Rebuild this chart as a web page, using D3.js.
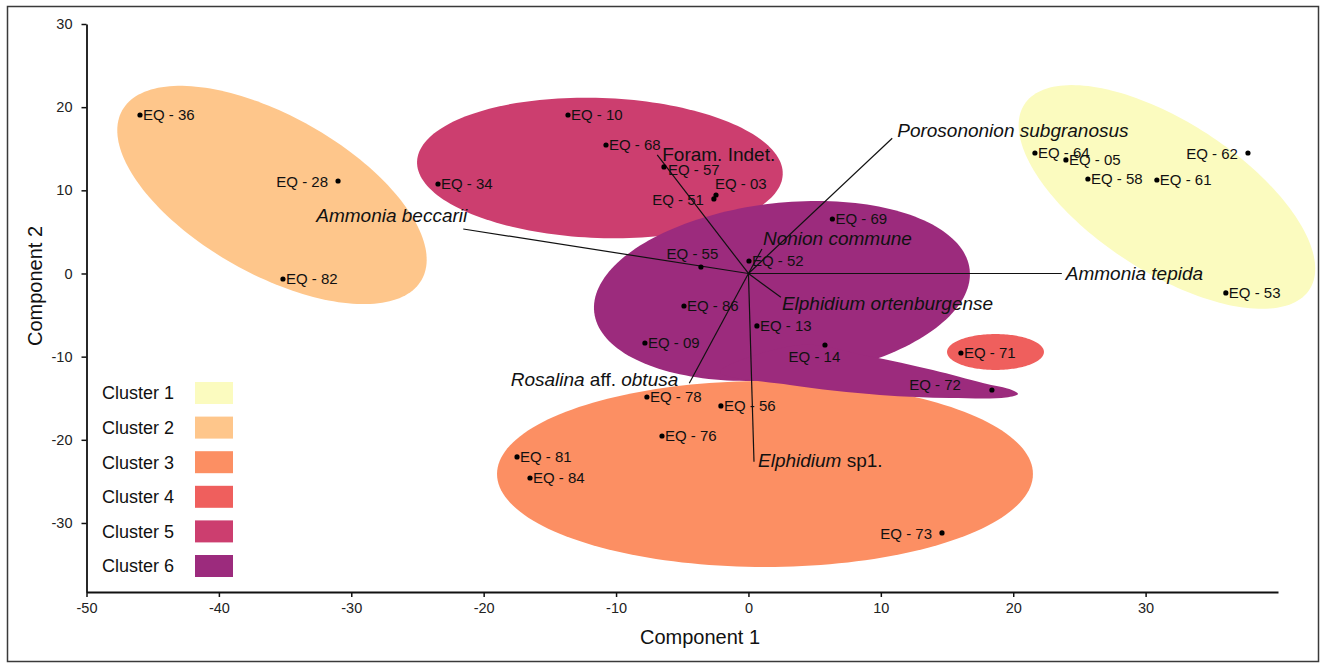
<!DOCTYPE html>
<html>
<head>
<meta charset="utf-8">
<script src="https://cdn.jsdelivr.net/npm/d3@7"></script>
<style>
  body { margin: 0; background: #fff; }
  svg { display: block; font-family: "Liberation Sans", Arial, sans-serif; }
</style>
</head>
<body>
<script>
// Sample scores on the two components
var sampleNames = ["EQ - 36", "EQ - 28", "EQ - 82", "EQ - 10", "EQ - 68", "EQ - 34", "EQ - 57", "EQ - 03",
  "EQ - 51", "EQ - 69", "EQ - 55", "EQ - 52", "EQ - 86", "EQ - 13", "EQ - 14", "EQ - 09", "EQ - 72",
  "EQ - 71", "EQ - 78", "EQ - 56", "EQ - 76", "EQ - 81", "EQ - 84", "EQ - 73", "EQ - 64", "EQ - 05",
  "EQ - 58", "EQ - 61", "EQ - 62", "EQ - 53"];
var comp1 = [-45.96, -31.0, -35.16, -13.63, -10.76, -23.45, -6.38, -2.45, -2.61, 6.34, -3.59, 0.04,
  -4.87, 0.64, 5.78, -7.82, 18.39, 16.05, -7.67, -2.08, -6.53, -17.48, -16.5, 14.62, 21.64, 23.98,
  25.64, 30.85, 37.73, 36.06];
var comp2 = [19.06, 11.12, -0.66, 19.06, 15.45, 10.76, 12.81, 9.44, 8.96, 6.55, 0.78, 1.5, -3.91,
  -6.31, -8.6, -8.36, -14.01, -9.56, -14.85, -15.93, -19.54, -22.06, -24.59, -31.2, 14.49, 13.65,
  11.36, 11.24, 14.49, -2.34];

// Species loadings (label parts: [text, italic])
var speciesParts = [
  [["Porosononion subgranosus", true]],
  [["Foram. Indet.", false]],
  [["Ammonia beccarii", true]],
  [["Ammonia tepida", true]],
  [["Nonion commune", true]],
  [["Elphidium ortenburgense", true]],
  [["Rosalina", true], [" aff. ", false], ["obtusa", true]],
  [["Elphidium", true], [" sp1.", false]]
];
var load1 = [10.86, -6.89, -21.54, 23.67, 1.02, 2.45, -4.47, 0.42];
var load2 = [16.26, 14.25, 5.35, 0, 2.95, -2.86, -13.2, -22.63];

// Clusters: ellipse centre and two semi-axis vectors, in component units
var clusterNames = ["Cluster 1", "Cluster 2", "Cluster 3", "Cluster 4", "Cluster 5", "Cluster 6"];
var clusterColors = ["#fbfbbf", "#fec68b", "#fc8f63", "#ef5f5d", "#cc3e6f", "#9c2b7d"];
var ellipseCentre = [[31.61, 9.2], [-35.99, 9.44], [1.25, -24.11], [18.66, -9.44], [-11.22, 12.69], [2.53, -2.1]];
var ellipseAxisA = [[10.77, -11.13], [11.31, -10.19], [20.24, 0], [3.66, 0], [13.81, -0.77], [14.18, 2.57]];
var ellipseAxisB = [[-3.08, -7.56], [-2.94, -8.27], [0, -11.18], [0, -2.16], [-0.18, -8.42], [0.75, -10.51]];
// tail of cluster 6 reaching EQ - 72
var cluster6Tail = [[3.89, -8.6], [9.03, -9.92], [13.93, -11.61], [17.71, -13.17], [19.9, -14.01],
  [20.36, -14.49], [19.45, -14.91], [15.22, -14.97], [9.93, -14.61], [3.13, -13.41], [-2.15, -11.84]];

var xTicks = [-50, -40, -30, -20, -10, 0, 10, 20, 30];
var yTicks = [-30, -20, -10, 0, 10, 20, 30];

// label placement around the dots
var labelPlacement = {
  "EQ - 28": "left", "EQ - 62": "left", "EQ - 73": "left", "EQ - 51": "left",
  "EQ - 72": "farleft", "EQ - 55": "above", "EQ - 14": "below", "EQ - 03": "aboveright",
  "EQ - 57": "rightlow"
};
var placementOffsets = {
  right: [3, 0, "start"], rightlow: [4, 3, "start"], left: [-10, 1, "end"],
  farleft: [-31, -5, "end"], above: [-8.5, -13.5, "middle"], below: [-10.5, 11.5, "middle"],
  aboveright: [-1, -11, "start"]
};
// species label offsets [dx, dy, anchor]
var speciesOffsets = [[5, -8, "start"], [5, -1, "start"], [4, -14, "end"], [4, 0, "start"],
  [1, -11, "start"], [1, 6, "start"], [-11, -4, "end"], [4, -1, "start"]];

var svgWidth = 1324;
var svgHeight = 666;
var chartMargin = { top: 24, right: 46, bottom: 74, left: 86.5 };
var chartWidth = svgWidth - chartMargin.left - chartMargin.right;
var chartHeight = svgHeight - chartMargin.top - chartMargin.bottom;

var svg = d3.select("body")
  .append("svg")
  .attr("width", svgWidth)
  .attr("height", svgHeight);

// outer frame
svg.append("rect")
  .attr("x", 7.5).attr("y", 6.5)
  .attr("width", 1311).attr("height", 655)
  .attr("fill", "#fff")
  .attr("stroke", "#3a3a3a")
  .attr("stroke-width", 1.5);

var chartGroup = svg.append("g")
  .attr("transform", `translate(${chartMargin.left}, ${chartMargin.top})`);

var xScale = d3.scaleLinear().domain([-50, 40]).range([0, chartWidth]);
var yScale = d3.scaleLinear().domain([-38.3, 30]).range([chartHeight, 0]);

var line = d3.line()
  .x(d => xScale(d[0]))
  .y(d => yScale(d[1]));

function ellipsePoints(i) {
  var c = ellipseCentre[i], a = ellipseAxisA[i], b = ellipseAxisB[i];
  return d3.range(0, 360, 2).map(function(deg) {
    var t = deg * Math.PI / 180;
    return [c[0] + a[0] * Math.cos(t) + b[0] * Math.sin(t),
            c[1] + a[1] * Math.cos(t) + b[1] * Math.sin(t)];
  });
}

// cluster areas
clusterNames.forEach(function(name, i) {
  chartGroup.append("path")
    .attr("d", line.curve(d3.curveLinearClosed)(ellipsePoints(i)))
    .attr("fill", clusterColors[i]);
});
chartGroup.append("path")
  .attr("d", line.curve(d3.curveCatmullRomClosed)(cluster6Tail))
  .attr("fill", clusterColors[5]);

// axes (plain hyphen for negatives, as in the original)
var bottomAxis = d3.axisBottom(xScale).tickValues(xTicks).tickSize(5).tickSizeOuter(0).tickPadding(6)
  .tickFormat(d => String(d));
var leftAxis = d3.axisLeft(yScale).tickValues(yTicks).tickSize(5).tickSizeOuter(0).tickPadding(9)
  .tickFormat(d => String(d));

var gx = chartGroup.append("g")
  .attr("transform", `translate(0, ${chartHeight})`)
  .call(bottomAxis);
var gy = chartGroup.append("g").call(leftAxis);

[gx, gy].forEach(function(g) {
  g.select(".domain").attr("stroke", "#111").attr("stroke-width", 1.8);
  g.selectAll(".tick line").attr("stroke", "#111").attr("stroke-width", 1.5);
  g.selectAll(".tick text")
    .attr("fill", "#222")
    .style("font-size", "14.5px")
    .style("font-family", "'Liberation Sans', Arial, sans-serif");
});

svg.append("text")
  .attr("x", 700).attr("y", 644)
  .attr("text-anchor", "middle")
  .style("font-size", "20px")
  .attr("fill", "#111")
  .text("Component 1");

svg.append("text")
  .attr("transform", "translate(42, 286) rotate(-90)")
  .attr("text-anchor", "middle")
  .style("font-size", "20px")
  .attr("fill", "#111")
  .text("Component 2");

// loading vectors
chartGroup.selectAll(".load")
  .data(load1)
  .enter()
  .append("line")
  .attr("class", "load")
  .attr("x1", xScale(0)).attr("y1", yScale(0))
  .attr("x2", (d, i) => xScale(d))
  .attr("y2", (d, i) => yScale(load2[i]))
  .attr("stroke", "#111")
  .attr("stroke-width", 1.2);

// sample dots
chartGroup.selectAll(".dot")
  .data(sampleNames)
  .enter()
  .append("circle")
  .attr("class", "dot")
  .attr("cx", (d, i) => xScale(comp1[i]))
  .attr("cy", (d, i) => yScale(comp2[i]))
  .attr("r", 2.6)
  .attr("fill", "#000");

// sample labels
chartGroup.selectAll(".slabel")
  .data(sampleNames)
  .enter()
  .append("text")
  .attr("class", "slabel")
  .attr("x", (d, i) => xScale(comp1[i]) + placementOffsets[labelPlacement[d] || "right"][0])
  .attr("y", (d, i) => yScale(comp2[i]) + placementOffsets[labelPlacement[d] || "right"][1])
  .attr("dy", "0.35em")
  .attr("text-anchor", d => placementOffsets[labelPlacement[d] || "right"][2])
  .style("font-size", "15px")
  .attr("fill", "#111")
  .text(d => d);

// species labels
speciesParts.forEach(function(parts, i) {
  var off = speciesOffsets[i];
  var t = chartGroup.append("text")
    .attr("x", xScale(load1[i]) + off[0])
    .attr("y", yScale(load2[i]) + off[1])
    .attr("dy", "0.35em")
    .attr("text-anchor", off[2])
    .style("font-size", "19px")
    .style("white-space", "pre")
    .attr("fill", "#111");
  parts.forEach(function(p) {
    t.append("tspan")
      .style("font-style", p[1] ? "italic" : "normal")
      .text(p[0]);
  });
});

// legend
var legend = svg.append("g");
clusterNames.forEach(function(name, i) {
  var cy = 393 + i * 34.6;
  legend.append("text")
    .attr("x", 102).attr("y", cy)
    .attr("dy", "0.35em")
    .style("font-size", "18px")
    .attr("fill", "#111")
    .text(name);
  legend.append("rect")
    .attr("x", 195).attr("y", cy - 11)
    .attr("width", 38).attr("height", 22)
    .attr("fill", clusterColors[i]);
});
</script>
</body>
</html>
